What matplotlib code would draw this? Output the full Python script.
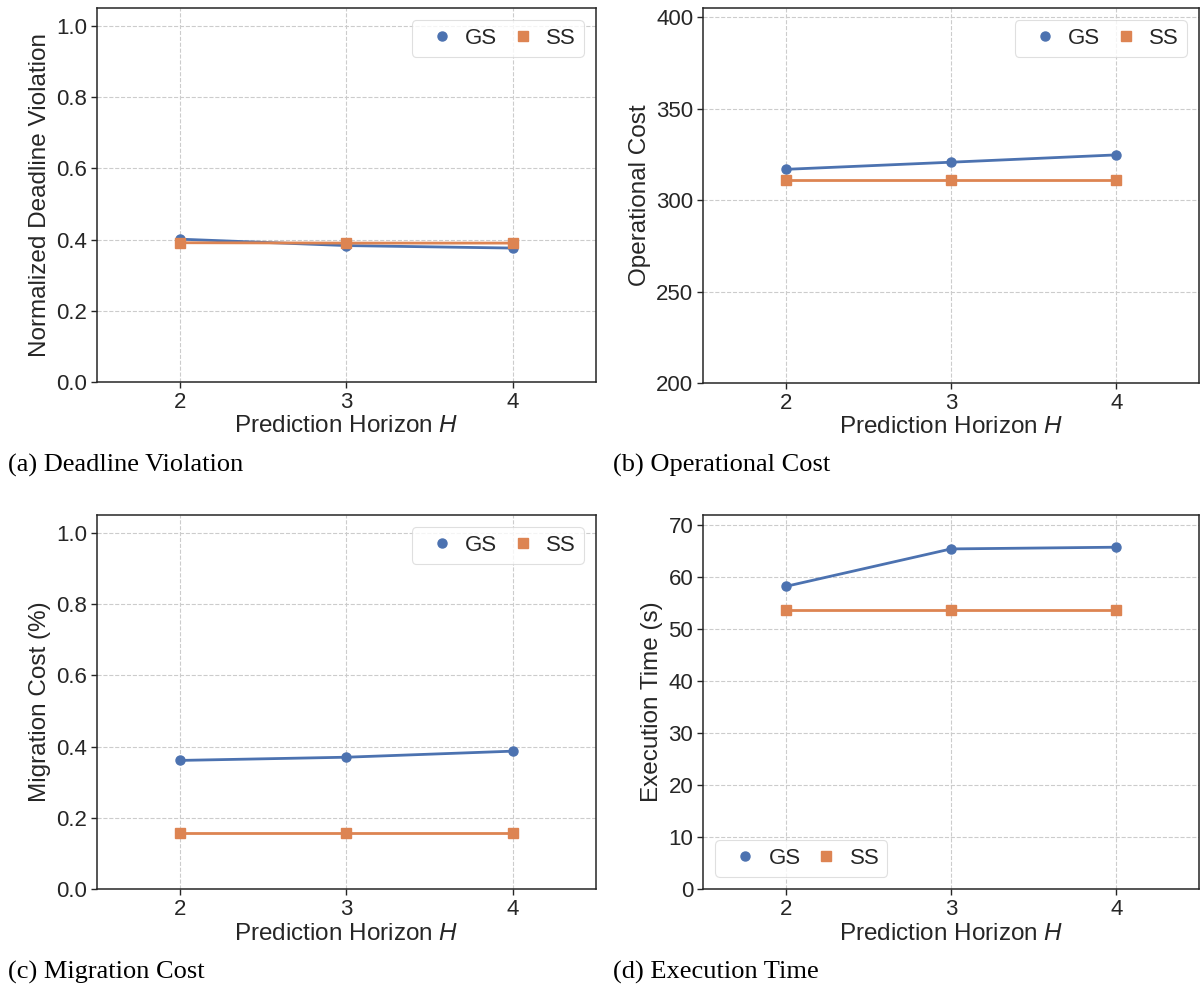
import matplotlib
matplotlib.use("Agg")
import matplotlib.pyplot as plt
from matplotlib.lines import Line2D

# Prediction horizons evaluated
horizons = [2, 3, 4]

# (a) Normalized deadline violation
deadline_gs = [0.401, 0.383, 0.376]
deadline_ss = [0.391, 0.390, 0.390]

# (b) Operational cost
opcost_gs = [316.8, 320.7, 324.7]
opcost_ss = [310.7, 310.7, 310.7]

# (c) Migration cost (%)
migration_gs = [0.361, 0.370, 0.387]
migration_ss = [0.157, 0.157, 0.157]

# (d) Execution time (s)
exec_gs = [58.25, 65.47, 65.8]
exec_ss = [53.7, 53.7, 53.7]

series_names = ["GS", "SS"]
x_ticks = [2, 3, 4]
x_label = "Prediction Horizon $H$"

panels = [
    dict(gs=deadline_gs, ss=deadline_ss, ylabel="Normalized Deadline Violation",
         ylim=(0, 1.05), yticks=[0.0, 0.2, 0.4, 0.6, 0.8, 1.0], fmt="{:.1f}",
         caption="(a) Deadline Violation", loc="upper right"),
    dict(gs=opcost_gs, ss=opcost_ss, ylabel="Operational Cost",
         ylim=(200, 405), yticks=[200, 250, 300, 350, 400], fmt="{:.0f}",
         caption="(b) Operational Cost", loc="upper right"),
    dict(gs=migration_gs, ss=migration_ss, ylabel="Migration Cost (%)",
         ylim=(0, 1.05), yticks=[0.0, 0.2, 0.4, 0.6, 0.8, 1.0], fmt="{:.1f}",
         caption="(c) Migration Cost", loc="upper right"),
    dict(gs=exec_gs, ss=exec_ss, ylabel="Execution Time (s)",
         ylim=(0, 72), yticks=[0, 10, 20, 30, 40, 50, 60, 70], fmt="{:.0f}",
         caption="(d) Execution Time", loc="lower left"),
]

BLUE = "#4C72B0"
ORANGE = "#DD8452"
DARK = "#262626"

plt.rcParams["font.family"] = ["Liberation Sans", "DejaVu Sans"]
plt.rcParams["mathtext.fontset"] = "custom"
plt.rcParams["mathtext.it"] = "Liberation Sans:italic"
plt.rcParams["mathtext.rm"] = "Liberation Sans"

W, H = 1201, 990
fig = plt.figure(figsize=(W / 100, H / 100), dpi=100)

# axes boxes in pixels: left, top, right, bottom
boxes = [
    (97, 8, 596, 382),
    (703, 8, 1199, 383),
    (97, 515, 596, 889),
    (703, 515, 1199, 889),
]
caption_pos = [(8, 465), (613, 465), (8, 972), (613, 972)]

for p, (l, t, r, b), (cx, cy) in zip(panels, boxes, caption_pos):
    ax = fig.add_axes([l / W, 1 - b / H, (r - l) / W, (b - t) / H])
    ax.plot(horizons, p["gs"], color=BLUE, lw=2.0, marker="o", ms=6.5, zorder=3)
    ax.plot(horizons, p["ss"], color=ORANGE, lw=2.0, marker="s", ms=6.5, zorder=3)
    ax.set_xlim(1.5, 4.5)
    ax.set_ylim(*p["ylim"])
    ax.set_xticks(x_ticks)
    ax.set_xticklabels([str(v) for v in x_ticks])
    ax.set_yticks(p["yticks"])
    ax.set_yticklabels([p["fmt"].format(v) for v in p["yticks"]])
    ax.grid(True, linestyle="--", color="#cccccc", linewidth=0.8)
    ax.set_axisbelow(True)
    for s in ax.spines.values():
        s.set_color(DARK)
        s.set_linewidth(1.1)
    ax.tick_params(axis="both", labelsize=16, colors=DARK, length=4, width=1.0,
                   direction="out", pad=3)
    ax.set_xlabel(x_label, fontsize=17.5, color=DARK, labelpad=2)
    ax.set_ylabel(p["ylabel"], fontsize=17.5, color=DARK, labelpad=4)

    handles = [
        Line2D([], [], color=BLUE, marker="o", linestyle="", ms=6.5),
        Line2D([], [], color=ORANGE, marker="s", linestyle="", ms=6.5),
    ]
    leg = ax.legend(handles, series_names, loc=p["loc"], ncol=2, fontsize=16,
                    handlelength=2.0, handletextpad=0.05, columnspacing=0.15,
                    frameon=True, fancybox=True, borderpad=0.35,
                    borderaxespad=0.55)
    leg.get_frame().set_edgecolor("#d8d8d8")
    leg.get_frame().set_linewidth(0.8)
    for txt in leg.get_texts():
        txt.set_color(DARK)

    fig.text(cx / W, 1 - cy / H, p["caption"], fontsize=19,
             family=["Liberation Serif", "DejaVu Serif"], color="black",
             ha="left", va="center")

fig.savefig("out.png", dpi=100, facecolor="white")
